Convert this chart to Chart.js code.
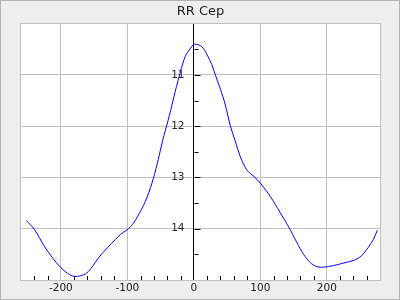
<!doctype html>
<html lang="en">
<head>
  <meta charset="utf-8">
  <title>RR Cep</title>
  <style>
    body { margin: 0; background: #fff; }
  </style>
</head>
<body>
  <canvas id="grafico" width="400" height="300"></canvas>

  <script src="https://cdn.jsdelivr.net/npm/chart.js"></script>
  <script>
    // datos
    const titulo = "RR Cep";
    const fases = [-252, -240, -225, -213, -200, -190, -183, -175, -163, -155, -143, -130, -118, -110, -95, -85, -73, -63, -55, -47, -43, -35, -28, -20, -13, -5, 1, 12, 20, 27, 32, 40, 47, 55, 62, 70, 80, 92, 100, 115, 130, 142, 155, 165, 175, 185, 195, 210, 225, 242, 252, 262, 270, 276];
    const magnitudes = [13.84, 14.01, 14.34, 14.56, 14.76, 14.87, 14.92, 14.93, 14.88, 14.78, 14.56, 14.37, 14.21, 14.11, 13.96, 13.77, 13.47, 13.11, 12.73, 12.28, 12.09, 11.70, 11.32, 10.93, 10.64, 10.48, 10.40, 10.45, 10.61, 10.80, 10.99, 11.28, 11.57, 12.00, 12.28, 12.60, 12.86, 13.00, 13.11, 13.37, 13.69, 13.95, 14.27, 14.50, 14.66, 14.74, 14.75, 14.72, 14.67, 14.61, 14.53, 14.37, 14.21, 14.03];
    const xMin = -260, xMax = 280, xPaso = 20, xEtiqueta = 100;
    const yMin = 10, yMax = 15, yPaso = 0.5;

    const gris = '#c0c0c0';
    const fuente = "'DejaVu Sans', sans-serif";

    const puntos = fases.map((x, i) => ({ x: x, y: magnitudes[i] }));

    // fondo, bordes y marcas de las escalas
    const decorado = {
      id: 'decorado',
      beforeDraw(chart) {
        const c = chart.ctx, a = chart.chartArea;
        c.save();
        c.fillStyle = '#eeeeee';
        c.fillRect(0, 0, chart.width, chart.height);
        c.strokeStyle = '#b4b4b4';
        c.lineWidth = 1;
        c.strokeRect(0.5, 0.5, chart.width - 1, chart.height - 1);
        c.fillStyle = '#ffffff';
        c.fillRect(a.left, a.top, a.right - a.left, a.bottom - a.top);
        c.restore();
      },
      beforeDatasetsDraw(chart) {
        const c = chart.ctx, a = chart.chartArea;
        c.save();
        c.strokeStyle = gris;
        c.lineWidth = 1;
        c.strokeRect(Math.round(a.left) - 0.5, Math.round(a.top) - 0.5, Math.round(a.right - a.left) + 1, Math.round(a.bottom - a.top) + 1);
        c.restore();
      },
      afterDatasetsDraw(chart) {
        const c = chart.ctx, a = chart.chartArea;
        const ex = chart.scales.x, ey = chart.scales.y;
        const x0 = Math.round(ex.getPixelForValue(0)) + 0.5;
        c.save();
        c.strokeStyle = '#000';
        c.lineWidth = 1;
        c.beginPath();
        ex.ticks.forEach(t => {
          if (t.value <= xMin || t.value >= xMax || t.value % xEtiqueta === 0) return;
          const px = Math.round(ex.getPixelForValue(t.value)) + 0.5;
          c.moveTo(px, a.bottom);
          c.lineTo(px, a.bottom - 4);
        });
        ey.ticks.forEach(t => {
          if (t.value <= yMin || t.value >= yMax) return;
          const py = Math.round(ey.getPixelForValue(t.value)) + 0.5;
          const largo = Number.isInteger(t.value) ? 6 : 4;
          c.moveTo(x0, py);
          c.lineTo(x0 + largo, py);
        });
        c.stroke();
        c.restore();
      }
    };

    const etiquetaY = v => (Number.isInteger(v) && v > yMin && v < yMax ? v : '');

    new Chart(document.getElementById('grafico'), {
      type: 'scatter',
      data: {
        datasets: [{
          label: titulo,
          data: puntos,
          showLine: true,
          borderColor: '#0000ff',
          borderWidth: 1,
          pointRadius: 0,
          tension: 0.3
        }]
      },
      options: {
        responsive: false,
        animation: false,
        layout: { padding: { left: 21, right: 20, top: 0, bottom: 0 } },
        plugins: {
          legend: { display: false },
          tooltip: { enabled: false },
          title: {
            display: true,
            text: titulo,
            color: '#222',
            font: { family: fuente, size: 13, weight: 'normal' },
            padding: { top: 4, bottom: 4 }
          }
        },
        scales: {
          x: {
            type: 'linear',
            min: xMin,
            max: xMax,
            afterFit: s => { s.height = 20; },
            ticks: {
              stepSize: xPaso,
              autoSkip: false,
              maxRotation: 0,
              padding: 2,
              color: '#222',
              font: { family: fuente, size: 10.5 },
              callback: v => (v % xEtiqueta === 0 ? v : '')
            },
            grid: {
              drawTicks: false,
              color: ctx => (ctx.tick && ctx.tick.value % xEtiqueta === 0 && ctx.tick.value !== 0 ? gris : 'rgba(0,0,0,0)')
            },
            border: { display: true, color: gris }
          },
          y: {
            type: 'linear',
            position: { x: 0 },
            reverse: true,
            min: yMin,
            max: yMax,
            ticks: { stepSize: yPaso, display: false },
            grid: {
              drawTicks: false,
              color: ctx => (ctx.tick && Number.isInteger(ctx.tick.value) && ctx.tick.value > yMin && ctx.tick.value < yMax ? gris : 'rgba(0,0,0,0)')
            },
            border: { display: true, color: '#000' }
          },
          // eje solo para las etiquetas, algo a la izquierda del eje en x=0
          yEtiquetas: {
            type: 'linear',
            axis: 'y',
            position: { x: -14 },
            reverse: true,
            min: yMin,
            max: yMax,
            ticks: {
              stepSize: yPaso,
              autoSkip: false,
              color: '#222',
              font: { family: fuente, size: 10.5 },
              callback: etiquetaY
            },
            grid: { display: false, drawTicks: false },
            border: { display: false }
          }
        }
      },
      plugins: [decorado]
    });
  </script>
</body>
</html>
